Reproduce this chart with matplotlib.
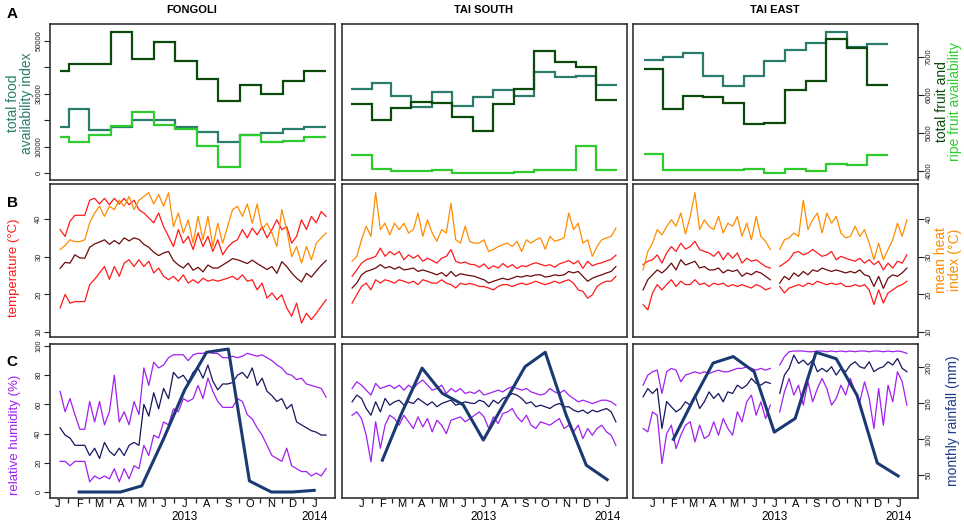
import numpy as np
import matplotlib
matplotlib.use('Agg')
import matplotlib.pyplot as plt
from matplotlib.transforms import blended_transform_factory

plt.rcParams['font.family'] = ['Liberation Sans', 'DejaVu Sans']

W, H = 964, 524
nan = np.nan

# ---------------------------------------------------------------------------
# data (days counted from 1 Jan 2013)
# ---------------------------------------------------------------------------
sites = ['FONGOLI', 'TAI SOUTH', 'TAI EAST']
month_starts = [0, 31, 59, 90, 120, 151, 181, 212, 243, 273, 304, 334, 365]
month_letters = ['J', 'F', 'M', 'A', 'M', 'J', 'J', 'A', 'S', 'O', 'N', 'D', 'J']
rain_days = [31, 59, 90, 120, 151, 181, 212, 243, 273, 304, 334, 365]

# panel A: monthly food availability (step series)
fongoli_edges = [4, 16, 45, 76, 106, 137, 167, 198, 229, 260, 290, 321, 351, 382]
fongoli_food = [17600, 24260, 16340, 17600, 20110, 20110, 17600, 15700, 11800, 14450, 15090, 16720, 17600]
fongoli_fruit = [38600, 41400, 41200, 53300, 43000, 49400, 42400, 35400, 27300, 33500, 29900, 35000, 38600]
fongoli_ripe = [13810, 11800, 14450, 17960, 23250, 18110, 16830, 10300, 2260, 14450, 11800, 12300, 13810]

tai_south_edges = [-15, 15, 44, 74, 105, 135, 166, 196, 227, 257, 288, 318, 349, 379]
tai_south_food = [6168, 6326, 5966, 5684, 6071, 5721, 5947, 6124, 5974, 6605, 6474, 6492, 6255]
tai_south_fruit = [5755, 5353, 5668, 5816, 5789, 5421, 5053, 5755, 6168, 7158, 6861, 6729, 5860]
tai_south_ripe = [4413, 4063, 3992, 3992, 4018, 3939, 3947, 3947, 3983, 4018, 4018, 4658, 4018]

tai_east_edges = [-13, 16, 45, 75, 105, 136, 166, 197, 228, 258, 289, 319, 350]
tai_east_food = [6913, 7000, 7105, 6492, 6229, 6492, 6887, 7176, 7368, 7658, 7263, 7351]
tai_east_fruit = [6676, 5624, 5966, 5947, 5800, 5229, 5273, 6142, 6361, 7483, 7237, 6254]
tai_east_ripe = [4439, 4018, 4036, 4018, 4036, 4045, 3939, 4045, 4009, 4193, 4158, 4430]

# panels B and C: weekly readings
fongoli_days = np.arange(4, 383, 7)
tai_days = np.arange(-14, 379, 7)

fongoli_tmax = [37.2, 35.4, 39.4, 41.0, 41.0, 41.0, 45.0, 45.5, 44.0, 45.5,
                43.8, 45.5, 44.0, 45.5, 43.8, 45.0, 42.5, 41.6, 40.3, 39.0,
                41.6, 38.0, 35.4, 32.7, 37.2, 33.6, 35.4, 31.9, 36.3, 32.7,
                35.4, 31.4, 34.5, 30.5, 32.5, 33.8, 34.5, 37.2, 35.0, 37.6,
                35.8, 38.0, 35.0, 37.2, 39.8, 37.2, 38.0, 33.6, 35.4, 39.8,
                37.2, 40.7, 39.0, 42.0, 40.7]
fongoli_tmean = [26.9, 28.5, 28.3, 30.5, 29.7, 29.6, 32.5, 33.4, 33.9, 34.5,
                 33.3, 34.3, 33.4, 35.0, 34.2, 35.0, 34.6, 33.3, 32.5, 31.2,
                 30.3, 31.0, 31.4, 29.0, 27.8, 27.0, 28.3, 26.4, 27.2, 26.0,
                 27.8, 27.0, 27.0, 27.8, 28.6, 29.5, 29.2, 28.7, 28.2, 29.1,
                 28.2, 27.4, 26.6, 27.4, 25.6, 28.7, 27.4, 25.7, 24.3, 23.3,
                 25.6, 24.6, 26.2, 27.7, 29.0]
fongoli_tmin = [16.4, 20.0, 17.7, 18.1, 18.1, 18.1, 22.6, 24.0, 25.7, 27.4,
                24.0, 27.4, 24.8, 28.3, 29.2, 27.4, 29.2, 27.4, 28.8, 25.7,
                27.0, 24.8, 23.9, 24.8, 23.5, 25.2, 23.0, 23.9, 23.0, 24.3,
                23.5, 23.9, 23.5, 23.9, 24.3, 24.8, 23.9, 25.2, 23.5, 23.9,
                21.2, 23.0, 19.0, 20.4, 18.6, 19.9, 16.4, 14.2, 17.7, 12.4,
                15.0, 13.3, 15.0, 16.8, 18.6]
fongoli_heat = [31.9, 33.0, 34.5, 34.0, 34.0, 34.5, 39.0, 41.6, 43.4, 40.7,
                43.4, 42.5, 45.0, 43.4, 46.0, 42.5, 45.0, 46.0, 47.0, 44.0,
                46.5, 43.4, 47.0, 38.0, 41.6, 36.3, 39.8, 33.6, 40.7, 34.5,
                40.7, 32.7, 38.9, 33.6, 38.0, 42.5, 43.4, 40.7, 44.0, 38.9,
                44.0, 37.2, 38.9, 36.3, 32.7, 42.5, 37.2, 30.0, 32.7, 28.3,
                32.7, 29.2, 33.6, 35.0, 36.3]
fongoli_rh_max = [69, 55, 64, 53, 43, 43, 62, 48, 62, 46,
                  55, 80, 48, 55, 46, 62, 53, 85, 73, 89,
                  85, 87, 92, 94, 94, 94, 90, 94, 95, 95,
                  96, 95, 95, 92, 92, 93, 92, 93, 95, 94,
                  93, 94, 92, 90, 87, 85, 81, 80, 77, 78,
                  74, 73, 72, 71, 65]
fongoli_rh_mean = [44, 39, 37, 32, 32, 32, 25, 30, 23, 34,
                   28, 25, 30, 25, 32, 34, 32, 60, 52, 68,
                   57, 71, 64, 82, 78, 80, 75, 82, 85, 78,
                   87, 76, 70, 74, 74, 75, 80, 82, 78, 85,
                   73, 78, 69, 66, 62, 64, 57, 60, 48, 46,
                   44, 42, 41, 39, 39]
fongoli_rh_min = [21, 21, 18, 21, 21, 21, 7, 11, 9, 11,
                  9, 16, 7, 16, 9, 18, 16, 32, 25, 39,
                  37, 48, 46, 57, 55, 64, 62, 64, 73, 64,
                  78, 69, 62, 58, 58, 58, 64, 62, 53, 50,
                  44, 39, 32, 25, 23, 21, 30, 18, 16, 14,
                  14, 11, 13, 11, 16]
fongoli_rain = [0, 0, 0, 15, 130, 250, 342, 350, 27, 0, 0, 4]

tai_south_tmax = [24.8, 26.5, 28.3, 29.2, 29.6, 30.1, 32.3, 30.1, 31.4, 30.5,
                  31.4, 29.2, 30.5, 29.6, 30.4, 28.8, 29.6, 29.0, 28.3, 29.6,
                  30.1, 31.9, 28.8, 28.3, 28.6, 28.0, 27.9, 27.2, 28.1, 26.8,
                  27.6, 27.0, 28.2, 27.2, 27.9, 26.9, 27.6, 27.4, 28.0, 28.4,
                  28.0, 27.6, 27.9, 27.2, 28.1, 28.5, 29.0, 28.1, 28.9, 26.9,
                  28.8, 27.6, 28.1, 28.4, 28.9, 29.3, 30.4]
tai_south_tmean = [21.7, 23.0, 25.2, 26.1, 26.5, 27.0, 27.9, 27.0, 27.4, 26.7,
                   27.3, 26.5, 26.7, 27.0, 26.1, 26.5, 26.1, 25.7, 25.2, 25.8,
                   24.8, 26.1, 24.8, 25.5, 25.2, 25.0, 24.8, 24.3, 23.9, 23.0,
                   23.5, 23.9, 24.3, 23.9, 24.3, 24.8, 24.6, 25.0, 24.8, 25.2,
                   25.2, 24.6, 24.8, 25.2, 25.0, 25.2, 26.1, 25.7, 26.1, 24.8,
                   23.5, 24.3, 24.8, 25.2, 25.7, 26.1, 27.4]
tai_south_tmin = [17.7, 19.9, 22.1, 23.0, 21.2, 23.9, 23.0, 23.9, 23.5, 23.0,
                  23.9, 23.5, 23.0, 23.5, 22.6, 23.9, 23.5, 23.0, 23.0, 23.9,
                  23.0, 22.6, 21.7, 23.0, 22.6, 22.9, 22.6, 22.1, 22.1, 21.7,
                  21.2, 22.1, 22.6, 22.6, 22.1, 22.6, 23.0, 22.6, 23.0, 23.5,
                  23.0, 22.6, 23.0, 23.5, 23.0, 23.5, 23.9, 23.0, 21.2, 20.8,
                  19.0, 19.9, 22.1, 23.0, 23.5, 23.5, 24.8]
tai_south_heat = [28.8, 30.1, 34.5, 38.1, 35.4, 47.0, 37.2, 38.9, 35.8, 38.9,
                  37.2, 38.9, 36.3, 37.2, 41.6, 35.4, 39.8, 36.3, 34.1, 37.2,
                  36.3, 44.2, 34.5, 33.6, 38.1, 34.0, 33.6, 33.6, 34.5, 31.4,
                  31.9, 32.7, 33.2, 33.6, 32.7, 34.1, 31.4, 34.5, 33.6, 34.5,
                  35.0, 32.0, 35.4, 34.1, 34.5, 35.0, 41.6, 37.2, 38.9, 33.6,
                  34.5, 30.1, 32.7, 34.5, 35.0, 35.4, 37.6]
tai_south_rh_max = [70.9, 75.5, 73.2, 69.8, 66.4, 74.4, 70.9, 72.1, 73.2, 70.9,
                    73.2, 69.8, 73.2, 70.9, 74.4, 76.7, 73.2, 69.8, 70.9, 73.2,
                    67.5, 70.9, 68.6, 70.9, 67.5, 68.6, 67.5, 69.8, 66.4, 67.5,
                    68.6, 69.8, 68.6, 70.9, 72.1, 70.9, 69.8, 70.9, 68.6, 67.5,
                    66.4, 67.5, 70.9, 68.6, 67.5, 69.8, 66.4, 64.1, 61.8, 62.9,
                    61.8, 60.6, 61.8, 62.9, 62.9, 61.8, 59.5]
tai_south_rh_mean = [61.8, 66.4, 64.1, 57.2, 52.6, 61.8, 54.9, 64.1, 59.5, 61.8,
                     62.9, 59.5, 61.8, 60.6, 64.1, 61.8, 59.5, 61.8, 58.4, 60.6,
                     61.8, 62.9, 59.5, 60.6, 61.8, 61.0, 60.6, 62.9, 61.8, 58.4,
                     62.9, 60.6, 64.1, 65.2, 67.5, 66.4, 64.1, 60.6, 61.8, 58.4,
                     59.5, 58.4, 57.2, 59.5, 60.6, 58.4, 58.4, 56.1, 54.9, 56.1,
                     53.8, 56.1, 54.9, 56.1, 57.2, 54.9, 48.1]
tai_south_rh_min = [52.6, 54.9, 50.3, 38.9, 20.6, 48.1, 30.0, 45.8, 52.6, 50.3,
                    45.8, 52.6, 48.1, 43.5, 51.5, 44.6, 50.3, 41.2, 49.2, 45.8,
                    40.0, 49.2, 50.3, 51.5, 48.1, 50.3, 52.6, 54.9, 51.5, 43.5,
                    51.5, 46.9, 53.8, 54.9, 57.2, 51.5, 48.1, 52.6, 45.8, 43.5,
                    48.1, 46.9, 45.8, 48.1, 50.3, 43.5, 45.8, 41.2, 45.8, 36.6,
                    43.5, 38.9, 43.5, 45.8, 41.2, 38.9, 32.0]
tai_south_rain = [71, 135, 199, 164, 148, 99, 150, 201, 221, 134, 64, 44]

tai_east_tmax = [27.9, 28.8, 29.2, 30.5, 28.3, 31.0, 32.7, 31.4, 33.6, 32.0,
                 32.7, 34.1, 31.9, 31.4, 31.0, 30.1, 31.4, 29.2, 31.0, 29.6,
                 31.0, 28.3, 29.6, 28.8, 29.2, 28.3, 27.4, 27.0, nan, 27.4,
                 28.3, 29.2, 31.0, 31.4, 30.5, 31.0, 31.9, 31.0, 30.1, 30.5,
                 31.4, 29.2, 30.1, 29.6, 29.2, 28.8, 29.6, 28.3, 29.2, 27.9,
                 28.8, 26.5, 28.3, 27.0, 28.8, 28.3, 30.5]
tai_east_tmean = [21.2, 23.9, 25.2, 26.5, 25.7, 26.8, 28.3, 26.5, 29.2, 27.8,
                  28.3, 28.8, 27.0, 27.4, 26.5, 26.5, 27.0, 25.7, 26.5, 26.1,
                  26.5, 24.8, 25.7, 25.2, 26.1, 25.7, 24.8, 23.9, nan, 23.0,
                  24.8, 23.9, 25.7, 24.8, 26.1, 25.2, 26.5, 26.1, 27.0, 26.5,
                  26.1, 26.5, 26.1, 25.7, 26.1, 25.7, 26.5, 25.2, 24.8, 22.1,
                  24.8, 21.6, 24.3, 25.2, 24.8, 25.7, 27.0]
tai_east_tmin = [17.3, 15.9, 20.4, 22.6, 21.2, 22.6, 23.9, 22.1, 23.5, 22.6,
                 22.6, 23.9, 22.6, 23.0, 22.1, 23.0, 22.6, 23.0, 22.1, 22.6,
                 22.1, 22.6, 22.1, 21.7, 22.6, 22.1, 21.2, 21.7, nan, 22.1,
                 20.4, 21.7, 22.1, 22.6, 22.1, 23.0, 22.6, 23.5, 23.0, 22.6,
                 23.0, 22.6, 23.0, 22.1, 22.1, 22.6, 22.1, 22.6, 21.2, 17.3,
                 21.2, 17.7, 20.4, 21.2, 22.1, 22.6, 23.5]
tai_east_heat = [26.5, 31.4, 33.6, 37.2, 35.8, 38.0, 39.8, 38.1, 41.6, 36.0,
                 40.7, 47.0, 37.2, 39.8, 38.1, 37.2, 40.7, 36.3, 38.9, 38.1,
                 40.7, 35.4, 38.9, 34.5, 40.7, 35.4, 34.1, 31.9, nan, 31.9,
                 34.5, 35.0, 36.3, 35.4, 45.0, 37.2, 39.8, 41.6, 36.3, 41.6,
                 38.9, 40.7, 36.3, 35.0, 35.4, 38.1, 35.4, 37.2, 33.6, 29.2,
                 33.6, 29.2, 32.0, 34.5, 38.9, 35.4, 39.8]
tai_east_rh_max = [73.2, 80.1, 82.4, 83.5, 67.5, 82.4, 84.7, 83.5, 75.5, 80.1,
                   81.2, 82.4, 81.2, 82.4, 81.2, 82.4, 83.5, 82.4, 82.4, 83.5,
                   84.7, 84.7, 85.8, 84.7, 83.5, 84.7, 83.5, 84.7, nan, 87.0,
                   92.7, 96.1, 96.6, 96.6, 96.6, 96.1, 96.1, 96.6, 96.6, 96.1,
                   96.6, 96.1, 96.6, 96.1, 96.6, 96.1, 96.6, 96.6, 96.1, 96.6,
                   96.6, 96.1, 96.6, 96.1, 96.6, 96.1, 95.0]
tai_east_rh_mean = [65.2, 70.9, 67.5, 70.9, 43.5, 62.0, 58.4, 54.9, 57.2, 61.8,
                    59.5, 66.4, 57.2, 61.8, 68.6, 64.1, 67.5, 61.8, 68.6, 67.5,
                    73.2, 70.9, 73.2, 77.8, 74.4, 73.2, 75.5, 74.4, nan, 67.5,
                    80.1, 84.7, 93.8, 88.1, 90.4, 87.0, 90.4, 82.4, 84.7, 82.4,
                    85.8, 80.1, 84.7, 82.4, 87.0, 89.2, 85.8, 84.7, 89.2, 82.4,
                    84.7, 85.8, 89.2, 87.0, 91.5, 84.7, 82.4]
tai_east_rh_min = [43.5, 41.2, 54.9, 52.6, 19.5, 40.0, 45.8, 29.7, 38.9, 45.8,
                   48.1, 34.3, 45.8, 36.6, 38.9, 48.1, 38.9, 50.3, 43.5, 38.9,
                   54.9, 48.1, 61.8, 66.4, 52.6, 61.8, 50.3, 59.5, nan, 54.9,
                   68.6, 77.8, 66.4, 73.2, 59.5, 75.5, 61.8, 70.9, 77.8, 70.9,
                   59.5, 64.1, 73.2, 66.4, 77.8, 68.6, 61.8, 75.5, 64.1, 43.5,
                   70.9, 45.8, 73.2, 61.8, 82.4, 75.5, 59.5]
tai_east_rain = [100, 152, 206, 215, 194, 110, 129, 221, 212, 161, 67, 49]

# colours
c_food, c_fruit, c_ripe = '#2a7d6c', '#0b4a0b', '#2fcc2f'
c_red, c_dred, c_orange = '#ff1a1a', '#6b0a0a', '#ff8c00'
c_purple, c_navy, c_rain = '#a020f0', '#16165e', '#1b3a73'

site_data = [
    dict(xlim=(-10.4, 394.6), edges=fongoli_edges, food=fongoli_food, fruit=fongoli_fruit,
         ripe=fongoli_ripe, days=fongoli_days, tmax=fongoli_tmax, tmean=fongoli_tmean,
         tmin=fongoli_tmin, heat=fongoli_heat, rhmax=fongoli_rh_max, rhmean=fongoli_rh_mean,
         rhmin=fongoli_rh_min, rain=fongoli_rain, alim=(-2640, 56400), rlim=(-14.7, 362.3)),
    dict(xlim=(-29, 394.5), edges=tai_south_edges, food=tai_south_food, fruit=tai_south_fruit,
         ripe=tai_south_ripe, days=tai_days, tmax=tai_south_tmax, tmean=tai_south_tmean,
         tmin=tai_south_tmin, heat=tai_south_heat, rhmax=tai_south_rh_max,
         rhmean=tai_south_rh_mean, rhmin=tai_south_rh_min, rain=tai_south_rain,
         alim=(3763, 7868), rlim=(18.4, 232.5)),
    dict(xlim=(-29, 394.5), edges=tai_east_edges, food=tai_east_food, fruit=tai_east_fruit,
         ripe=tai_east_ripe, days=tai_days, tmax=tai_east_tmax, tmean=tai_east_tmean,
         tmin=tai_east_tmin, heat=tai_east_heat, rhmax=tai_east_rh_max,
         rhmean=tai_east_rh_mean, rhmin=tai_east_rh_min, rain=tai_east_rain,
         alim=(3763, 7868), rlim=(18.4, 232.5)),
]

# ---------------------------------------------------------------------------
# layout helpers (pixel positions of the panels)
# ---------------------------------------------------------------------------
col_px = [50, 342, 633]
row_px = {'A': (24, 180), 'B': (184, 337), 'C': (344, 498)}

fig = plt.figure(figsize=(W / 100, H / 100), dpi=100)


def make_ax(col, row):
    top, bot = row_px[row]
    return fig.add_axes([col_px[col] / W, 1 - bot / H, 285 / W, (bot - top) / H])


def base_style(ax, xlim):
    ax.set_xlim(*xlim)
    for s in ax.spines.values():
        s.set_color('#333333')
        s.set_linewidth(1.2)
    ax.tick_params(axis='x', which='both', bottom=False, labelbottom=False)
    ax.tick_params(axis='y', which='both', left=False, right=False,
                   labelleft=False, labelright=False)


def y_ticks(ax, ticks, labels, side):
    ax.set_yticks(ticks)
    ax.set_yticklabels(labels)
    kw = dict(direction='out', length=4, width=0.8, labelsize=5.5, pad=1.5,
              labelrotation=90, colors='#222222')
    if side == 'left':
        ax.tick_params(axis='y', left=True, labelleft=True, **kw)
    else:
        ax.yaxis.set_ticks_position('right')
        ax.tick_params(axis='y', right=True, labelright=True, left=False, **kw)
    for t in ax.get_yticklabels():
        t.set_va('center')


mid_months = [(a + b) / 2 for a, b in zip(month_starts[:-1], month_starts[1:])]

for i, d in enumerate(site_data):
    # ---------------- panel A ----------------
    ax = make_ax(i, 'A')
    base_style(ax, d['xlim'])
    ax.set_ylim(*d['alim'])
    ax.stairs(d['food'], d['edges'], baseline=None, color=c_food, lw=1.6)
    ax.stairs(d['ripe'], d['edges'], baseline=None, color=c_ripe, lw=1.6)
    ax.stairs(d['fruit'], d['edges'], baseline=None, color=c_fruit, lw=1.6)
    if i == 0:
        y_ticks(ax, [0, 10000, 20000, 30000, 40000, 50000],
                ['0', '10000', '', '30000', '', '50000'], 'left')
    if i == 2:
        y_ticks(ax, [4000, 5000, 6000, 7000], ['4000', '5000', '6000', '7000'], 'right')

    # ---------------- panel B ----------------
    ax = make_ax(i, 'B')
    base_style(ax, d['xlim'])
    ax.set_ylim(8.7, 49.3)
    ax.plot(d['days'], d['tmax'], color=c_red, lw=0.9)
    ax.plot(d['days'], d['tmin'], color=c_red, lw=0.9)
    ax.plot(d['days'], d['heat'], color=c_orange, lw=0.9)
    ax.plot(d['days'], d['tmean'], color=c_dred, lw=0.9)
    if i == 0:
        y_ticks(ax, [10, 20, 30, 40], ['10', '20', '30', '40'], 'left')
    if i == 2:
        y_ticks(ax, [10, 20, 30, 40], ['10', '20', '30', '40'], 'right')

    # ---------------- panel C ----------------
    ax = make_ax(i, 'C')
    rx = ax.twinx()
    base_style(ax, d['xlim'])
    ax.set_ylim(-4.1, 101.4)
    ax.plot(d['days'], d['rhmax'], color=c_purple, lw=0.9)
    ax.plot(d['days'], d['rhmin'], color=c_purple, lw=0.9)
    ax.plot(d['days'], d['rhmean'], color=c_navy, lw=0.9)
    if i == 0:
        y_ticks(ax, [0, 20, 40, 60, 80, 100], ['0', '20', '40', '60', '80', '100'], 'left')
    ax.set_xticks(month_starts)
    ax.set_xticklabels(month_letters)
    ax.set_xticks(mid_months, minor=True)
    ax.tick_params(axis='x', which='major', bottom=True, labelbottom=True,
                   length=0, pad=0.5, labelsize=8)
    ax.tick_params(axis='x', which='minor', bottom=True, length=3.5, width=0.9,
                   direction='out', color='#222222')
    trans = blended_transform_factory(ax.transData, ax.transAxes)
    ax.text(181, -0.125, '2013', transform=trans, ha='center', va='center', fontsize=8.5)
    ax.text(365, -0.125, '2014', transform=trans, ha='center', va='center', fontsize=8.5)

    rx.set_ylim(*d['rlim'])
    rx.set_xlim(*d['xlim'])
    rx.plot(rain_days, d['rain'], color=c_rain, lw=2.2)
    rx.tick_params(axis='y', which='both', left=False, right=False,
                   labelleft=False, labelright=False)
    for s in rx.spines.values():
        s.set_visible(False)
    if i == 2:
        y_ticks(rx, [50, 100, 150, 200], ['50', '100', '150', '200'], 'right')

    # column title
    fig.text((col_px[i] + 142) / W, 1 - 10 / H, sites[i], ha='center', va='center',
             fontsize=8, fontweight='bold')

# panel letters
for letter, y in [('A', 14), ('B', 203), ('C', 362)]:
    fig.text(12 / W, 1 - y / H, letter, ha='center', va='center', fontsize=11,
             fontweight='bold')

# left axis labels
fig.text(20 / W, 1 - 103 / H, 'total food\navailability index', rotation=90,
         ha='center', va='center', fontsize=10, color=c_food, linespacing=0.95)
fig.text(14 / W, 1 - 268 / H, 'temperature (°C)', rotation=90, ha='center',
         va='center', fontsize=9.5, color=c_red)
fig.text(15 / W, 1 - 435 / H, 'relative humidity (%)', rotation=90, ha='center',
         va='center', fontsize=9.5, color=c_purple)

# right axis labels
fig.text(942 / W, 1 - 102 / H, 'total fruit and', rotation=90, ha='center',
         va='center', fontsize=10, color=c_fruit)
fig.text(955 / W, 1 - 102 / H, 'ripe fruit availability', rotation=90, ha='center',
         va='center', fontsize=10, color=c_ripe)
fig.text(948 / W, 1 - 260 / H, 'mean heat\nindex (°C)', rotation=90, ha='center',
         va='center', fontsize=10, color=c_orange, linespacing=0.95)
fig.text(953 / W, 1 - 421 / H, 'monthly rainfall (mm)', rotation=90, ha='center',
         va='center', fontsize=10, color='#1f3c88')

fig.savefig('out.png', dpi=100)
